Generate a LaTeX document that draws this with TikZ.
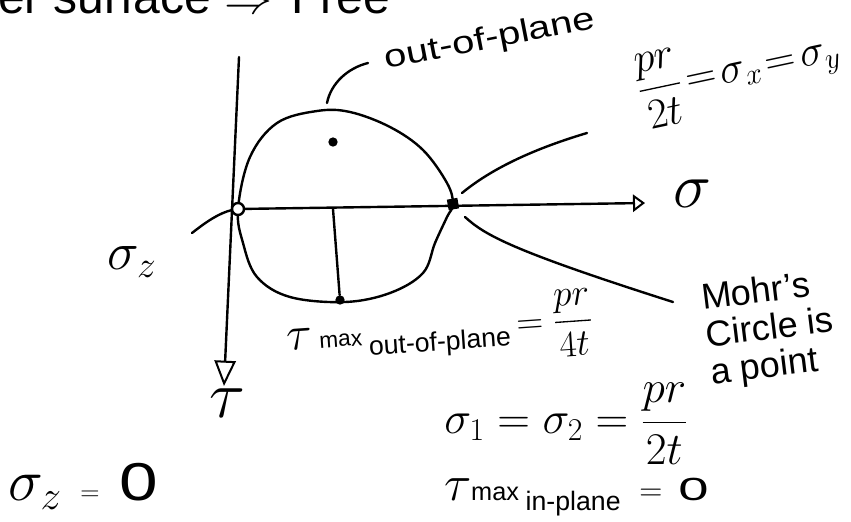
\RequirePackage{fix-cm}
\documentclass[tikz,border=0pt]{standalone}
\usepackage{fontspec}
\setmainfont{Liberation Sans}
\usepackage{amsmath}
\usepackage{graphicx}
\usetikzlibrary{arrows.meta}
\tikzset{
  ink/.style={line width=1.8pt, line cap=round, line join=round},
  lbl/.style={inner sep=0pt, outer sep=0pt},
  dotmark/.style={circle, fill=black, inner sep=0pt, minimum size=#1},
}
\newcommand\fsz[1]{\fontsize{#1}{#1}\selectfont}
\begin{document}
\begin{tikzpicture}[x=0.75pt,y=-0.75pt]
\useasboundingbox (0,0) rectangle (851,522);
\clip (0,0) rectangle (851,522);

% ---- key coordinates
\coordinate (tautop) at (239,57);
\coordinate (tautip) at (224,386);
\coordinate (O) at (238,209);
\coordinate (R) at (453,204);
\coordinate (sigtip) at (645,203);
\coordinate (cen) at (333,209);

% ---- axes
\draw[ink, -{Triangle[open,length=19pt,width=16pt,line width=1.5pt]}] (tautop) -- (tautip);
\draw[ink, -{Triangle[open,length=9pt,width=13pt,line width=1.5pt]}] (O) -- (sigtip);

% ---- Mohr's "circle"
\draw[ink] plot[smooth cycle, tension=0.6] coordinates {
 (238,209) (250,157) (277,123) (317,111) (350,112) (390,127) (423,150)
 (447,183) (453,204) (447,217) (435,243) (423,273) (390,293) (345,302)
 (290,297) (257,277) (243,243)};

% ---- radius line and points
\node[dotmark=7pt] (bot) at (340,300) {};
\node[dotmark=7pt] (mid) at (333,142) {};
\draw[ink] (cen) -- (bot);
\node[circle, draw, fill=white, line width=1.8pt, inner sep=0pt, minimum size=9pt] (Opt) at (O) {};
\node[rectangle, fill=black, inner sep=0pt, minimum size=8pt, rotate=10] (Rpt) at (R) {};

% ---- labels
\node[lbl, anchor=base west, font=\fsz{36}] (top) at (-2,13) {er surface\hspace{10pt}$\Rightarrow$\hspace{14pt}Free};
\node[lbl, rotate=11, font=\fsz{24}] (oop) at (490,40) {\scalebox{1.25}[1]{out-of-plane}};
\node[lbl, rotate=12, font=\fsz{32}] (sxy) at (739,72)
  {\thickmuskip=2mu$\dfrac{pr}{2t}=\sigma_x=\sigma_y$};
\node[lbl, font=\fsz{48}] (siglbl) at (692,194) {$\sigma$};
\node[lbl, font=\fsz{50}] (taulbl) at (227,403) {$\tau$};
\node[lbl, font=\fsz{40}] (szlbl) at (132,262) {$\sigma_z$};
\node[lbl, rotate=4, font=\fsz{28}] (tmo) at (440,332)
  {{\fsz{36}$\tau$}\,{\fsz{17}max}\,\raisebox{-8pt}{\fsz{20}out-of-plane}\,$=\dfrac{pr}{4t}$};
\node[lbl, rotate=7, align=left, font=\fontsize{27}{28}\selectfont] (mohr) at (770,330) {Mohr's\\Circle is\\a point};
\node[lbl, font=\fsz{34}] (s12) at (566,424) {$\sigma_1=\sigma_2=\dfrac{pr}{2t}$};
\node[lbl, anchor=west] (tip) at (444,497)
  {{\fsz{38}$\tau$}{\fsz{19}max}\hspace{5pt}\raisebox{-8pt}{\fsz{20}in-plane}\hspace{14pt}{\fsz{24}$=$}\hspace{12pt}{\fsz{24}\scalebox{1.7}[1]{0}}};
\node[lbl, anchor=west] (sz0) at (8,486)
  {{\fsz{44}$\sigma_z$}\hspace{14pt}{\fsz{20}$=$}\hspace{15pt}{\fsz{40}\scalebox{1.3}[1]{0}}};

% ---- leaders
\coordinate (oopL) at (368,63);
\coordinate (blobtop) at (327,103);
\draw[ink] (blobtop) .. controls (331,83) and (348,68) .. (oopL);
\coordinate (szA) at (192,233);
\coordinate (szB) at (232,210);
\draw[ink] (szA) .. controls (206,222) and (219,213) .. (szB);
\coordinate (Ru) at (462,193);
\coordinate (sxyend) at (587,133);
\draw[ink] (Ru) .. controls (490,170) and (530,150) .. (sxyend);
\coordinate (Rd) at (465,217);
\coordinate (mohrend) at (673,302);
\draw[ink] (Rd) .. controls (485,235) and (510,250) .. (mohrend);
\end{tikzpicture}
\end{document}
